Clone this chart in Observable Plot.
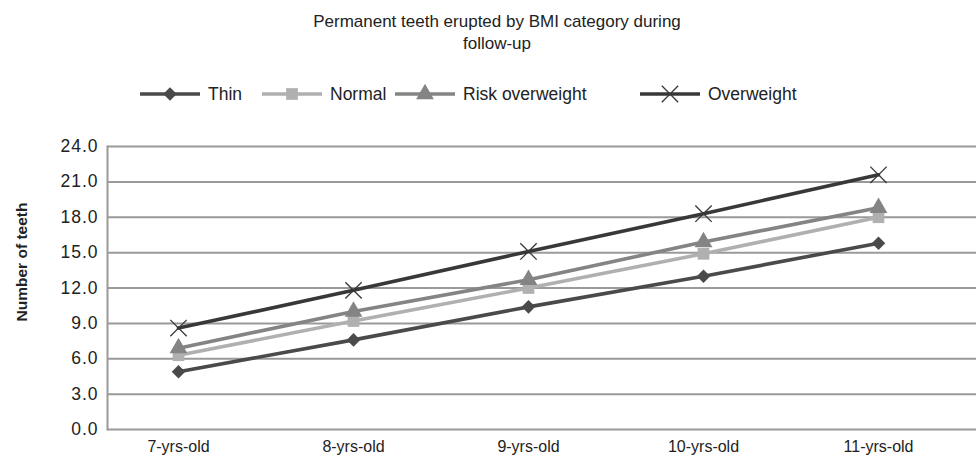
<!DOCTYPE html>
<html>
<head>
<meta charset="utf-8">
<script src="https://cdn.jsdelivr.net/npm/d3@7"></script>
<script src="https://cdn.jsdelivr.net/npm/@observablehq/plot@0.6"></script>
<style>
  body { margin: 0; background: #fff; font-family: "Liberation Sans", Arial, sans-serif; }
  #wrap { position: relative; width: 976px; height: 467px; overflow: hidden; background: #fff; }
  #title { position: absolute; left: 0; top: 11px; width: 994px; text-align: center; font-size: 17px; line-height: 22px; color: #222; }
  #legend { position: absolute; left: 0; top: 83px; width: 976px; height: 22px; font-size: 17.5px; color: #222; }
  #legend .item { position: absolute; top: 0; display: flex; align-items: center; height: 22px; }
  #legend svg { display: block; }
  #ylabel { position: absolute; left: 22px; top: 262px; transform: translate(-50%, -50%) rotate(-90deg); font-size: 15.5px; font-weight: bold; color: #222; white-space: nowrap; }
  #chart { position: absolute; left: 0; top: 120px; }
  g[aria-label="y-axis tick label"] text { letter-spacing: 1px; }
</style>
</head>
<body>
<div id="wrap">
  <div id="title">Permanent teeth erupted by BMI category during<br>follow-up</div>
  <div id="legend"></div>
  <div id="ylabel">Number of teeth</div>
  <div id="chart"></div>
</div>
<script>
const ages = ["7-yrs-old", "8-yrs-old", "9-yrs-old", "10-yrs-old", "11-yrs-old"];
const seriesNames = ["Thin", "Normal", "Risk overweight", "Overweight"];
const thin = [4.9, 7.6, 10.4, 13.0, 15.8];
const normal = [6.3, 9.2, 12.0, 14.9, 18.0];
const riskOverweight = [6.9, 10.0, 12.7, 15.9, 18.8];
const overweight = [8.6, 11.8, 15.1, 18.3, 21.6];
const yTicks = [0, 3, 6, 9, 12, 15, 18, 21, 24];

const colors = ["#4a4a4a", "#b0b0b0", "#848484", "#383838"];
const symbols = ["square", "square", "triangle", "times"];
const rotations = [45, 0, 0, 0];
const radii = [5.4, 6.6, 6.6, 7.5];

const values = [thin, normal, riskOverweight, overweight];
const data = [];
seriesNames.forEach((s, i) => ages.forEach((a, j) => data.push({series: s, age: a, value: values[i][j]})));

const marks = [
  Plot.ruleY(yTicks, {stroke: "#9a9a9a", strokeWidth: 2}),
  Plot.frame({anchor: "left", stroke: "#9a9a9a", strokeWidth: 2}),
  Plot.axisY({ticks: yTicks, tickFormat: d3.format(".1f"), tickSize: 0, tickPadding: 9, fontSize: 17.5, label: null, color: "#222"}),
  Plot.axisX({tickSize: 0, tickPadding: 11, fontSize: 16, label: null, color: "#222"})
];
seriesNames.forEach((s, i) => {
  const d = data.filter(r => r.series === s);
  marks.push(Plot.line(d, {x: "age", y: "value", stroke: colors[i], strokeWidth: 3.6}));
});
seriesNames.forEach((s, i) => {
  const d = data.filter(r => r.series === s);
  const opts = {x: "age", y: "value", symbol: symbols[i], r: radii[i], rotate: rotations[i]};
  if (symbols[i] === "times") { opts.stroke = colors[i]; opts.strokeWidth = 1.3; opts.fill = "none"; }
  else { opts.fill = colors[i]; opts.stroke = "none"; }
  marks.push(Plot.dot(d, opts));
});

const plot = Plot.plot({
  width: 976,
  height: 347,
  marginTop: 26,
  marginBottom: 38,
  marginLeft: 107,
  marginRight: 0,
  style: {fontFamily: "'Liberation Sans', Arial, sans-serif", fontSize: "16px", background: "transparent"},
  x: {type: "point", domain: ages, range: [178, 878], padding: 0},
  y: {domain: [0, 24]},
  marks
});
document.getElementById("chart").appendChild(plot);

// legend
const leg = document.getElementById("legend");
const legendLeft = [140, 262, 395, 640];
seriesNames.forEach((s, i) => {
  const item = document.createElement("div");
  item.className = "item";
  item.style.left = legendLeft[i] + "px";
  const svg = d3.create("svg").attr("width", 60).attr("height", 22);
  svg.append("line").attr("x1", 0).attr("x2", 60).attr("y1", 11).attr("y2", 11).attr("stroke", colors[i]).attr("stroke-width", 3.6);
  const sym = {square: d3.symbolSquare, triangle: d3.symbolTriangle, times: d3.symbolTimes}[symbols[i]];
  const p = svg.append("path").attr("d", d3.symbol(sym, Math.PI * radii[i] * radii[i])()).attr("transform", `translate(30,11) rotate(${rotations[i]})`);
  if (symbols[i] === "times") p.attr("fill", "none").attr("stroke", colors[i]).attr("stroke-width", 1.3);
  else p.attr("fill", colors[i]);
  item.appendChild(svg.node());
  const t = document.createElement("span");
  t.textContent = s;
  t.style.marginLeft = "8px";
  item.appendChild(t);
  leg.appendChild(item);
});
</script>
</body>
</html>
